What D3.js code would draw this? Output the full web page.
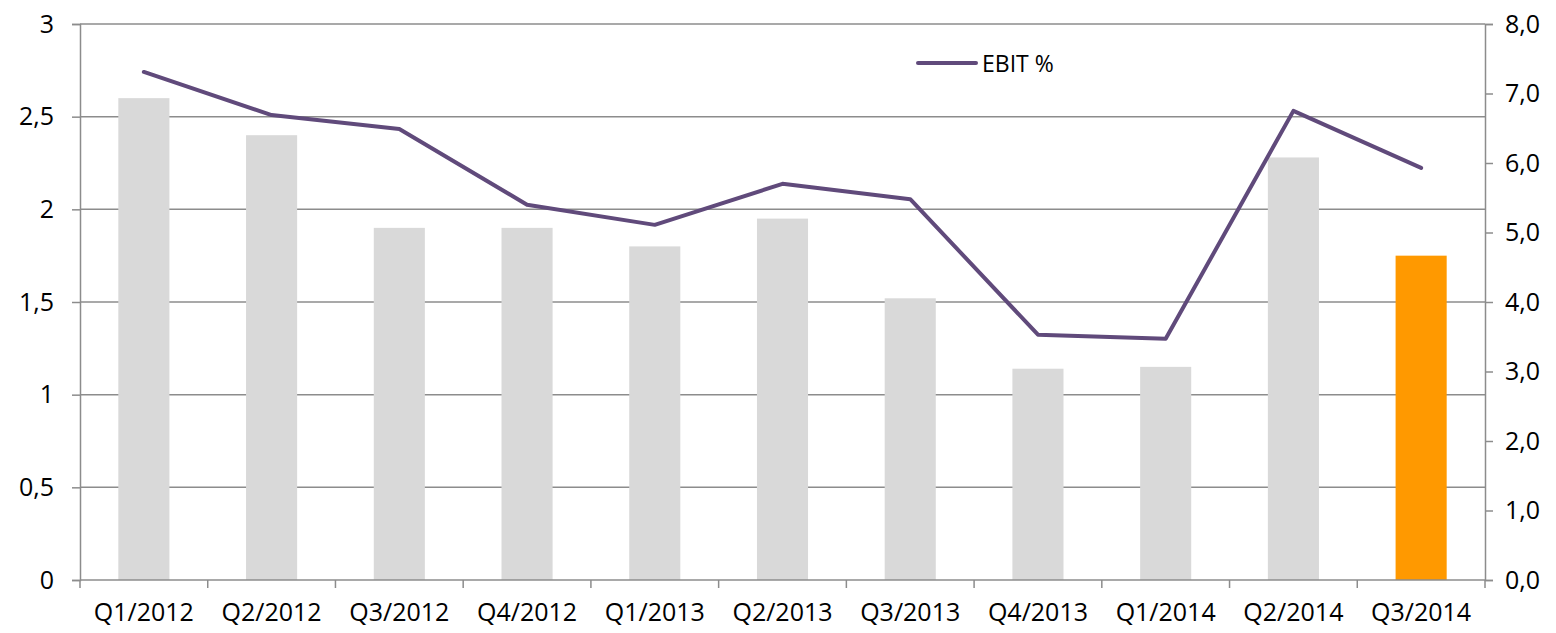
<!DOCTYPE html>
<html>
<head>
<meta charset="utf-8">
<script src="https://cdn.jsdelivr.net/npm/d3@7"></script>
<style>
  body { margin: 0; background: #fff; }
  text { font-family: "Open Sans", "Liberation Sans", sans-serif; fill: #000; }
</style>
</head>
<body>
<script>
// quarters, bar values (left axis) and EBIT % (right axis)
var quarters = ["Q1/2012", "Q2/2012", "Q3/2012", "Q4/2012", "Q1/2013", "Q2/2013",
                "Q3/2013", "Q4/2013", "Q1/2014", "Q2/2014", "Q3/2014"];
var barValues = [2.6, 2.4, 1.9, 1.9, 1.8, 1.95, 1.52, 1.14, 1.15, 2.28, 1.75];
var ebitPct = [7.31, 6.69, 6.49, 5.40, 5.11, 5.70, 5.48, 3.53, 3.47, 6.75, 5.93];
var leftTicks = [0, 0.5, 1, 1.5, 2, 2.5, 3];
var rightTicks = [0, 1, 2, 3, 4, 5, 6, 7, 8];

var width = 1556, height = 633;
var plotLeft = 80, plotRight = 1485, plotTop = 24, plotBottom = 580;
var fontSize = "25px";

var svg = d3.select("body").append("svg")
    .attr("width", width)
    .attr("height", height);

var x = d3.scaleBand().domain(quarters).range([plotLeft, plotRight]).paddingInner(0.6).paddingOuter(0.3);
var xBand = d3.scaleBand().domain(quarters).range([plotLeft, plotRight]);
var yL = d3.scaleLinear().domain([0, 3]).range([plotBottom, plotTop]);
var yR = d3.scaleLinear().domain([0, 8]).range([plotBottom, plotTop]);

var axisColor = "#8c8c8c";

// gridlines
svg.append("g").selectAll("line")
  .data(leftTicks.slice(1))
  .enter().append("line")
  .attr("x1", plotLeft).attr("x2", plotRight)
  .attr("y1", function(d) { return yL(d); })
  .attr("y2", function(d) { return yL(d); })
  .attr("stroke", axisColor).attr("stroke-width", 1.5);

// bars
svg.append("g").selectAll("rect")
  .data(barValues)
  .enter().append("rect")
  .attr("x", function(d, i) { return x(quarters[i]); })
  .attr("width", x.bandwidth())
  .attr("y", function(d) { return yL(d); })
  .attr("height", function(d) { return plotBottom - yL(d); })
  .attr("fill", function(d, i) { return i == quarters.length - 1 ? "#ff9900" : "#d9d9d9"; });

// left axis
var gl = svg.append("g").attr("transform", "translate(" + plotLeft + ",0)")
  .call(d3.axisLeft(yL).tickValues(leftTicks).tickSize(8).tickPadding(18)
    .tickFormat(function(d) { return String(d).replace(".", ","); }));

// right axis
var gr = svg.append("g").attr("transform", "translate(" + plotRight + ",0)")
  .call(d3.axisRight(yR).tickValues(rightTicks).tickSize(8).tickPadding(12)
    .tickFormat(function(d) { return d3.format(".1f")(d).replace(".", ","); }));

// bottom axis: ticks at category boundaries
var gb = svg.append("g").attr("transform", "translate(0," + plotBottom + ")");
gb.append("line").attr("x1", plotLeft).attr("x2", plotRight)
  .attr("stroke", axisColor).attr("stroke-width", 1.5);
gb.selectAll(".tk").data(quarters.concat(["end"]))
  .enter().append("line")
  .attr("x1", function(d, i) { return plotLeft + i * xBand.bandwidth(); })
  .attr("x2", function(d, i) { return plotLeft + i * xBand.bandwidth(); })
  .attr("y1", 0).attr("y2", 8)
  .attr("stroke", axisColor).attr("stroke-width", 1.5);
gb.selectAll("text").data(quarters)
  .enter().append("text")
  .attr("x", function(d) { return xBand(d) + xBand.bandwidth() / 2; })
  .attr("y", 41)
  .attr("text-anchor", "middle")
  .style("font-size", fontSize)
  .text(function(d) { return d; });

[gl, gr].forEach(function(g) {
  g.select(".domain").attr("stroke", axisColor).attr("stroke-width", 1.5);
  g.selectAll(".tick line").attr("stroke", axisColor).attr("stroke-width", 1.5);
  g.selectAll(".tick text").style("font-size", fontSize).style("font-family", "'Open Sans', sans-serif").attr("fill", "#000");
});

// EBIT % line
var line = d3.line()
  .x(function(d, i) { return xBand(quarters[i]) + xBand.bandwidth() / 2; })
  .y(function(d) { return yR(d); });

svg.append("path")
  .datum(ebitPct)
  .attr("d", line)
  .attr("fill", "none")
  .attr("stroke", "#604a7b")
  .attr("stroke-width", 4)
  .attr("stroke-linejoin", "round")
  .attr("stroke-linecap", "round");

// legend
var lg = svg.append("g").attr("transform", "translate(918,63)");
lg.append("line").attr("x1", 0).attr("x2", 58)
  .attr("stroke", "#604a7b").attr("stroke-width", 4).attr("stroke-linecap", "round");
lg.append("text").attr("x", 64).attr("y", 9)
  .style("font-size", "23px").text("EBIT %");
</script>
</body>
</html>
